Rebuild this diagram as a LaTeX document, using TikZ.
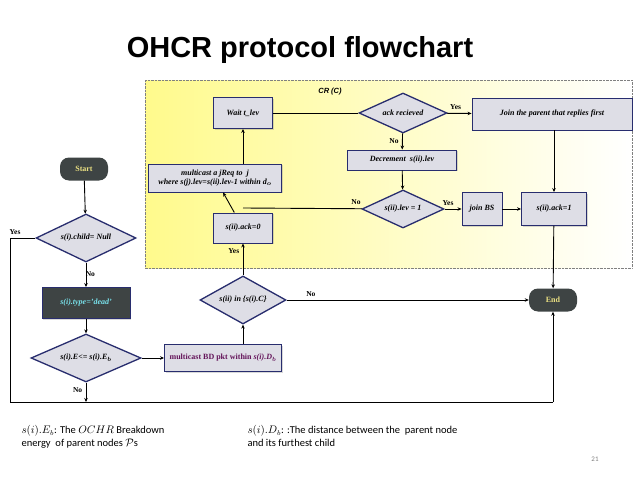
\documentclass[tikz,border=0pt]{standalone}
\usepackage{bm}
\usepackage{fontspec}
\setmainfont{Liberation Serif}
\newfontfamily\titlef{Liberation Sans}
\newfontfamily\notef{Carlito}
\usetikzlibrary{shapes.geometric,arrows.meta,shadows}
\definecolor{navy}{RGB}{40,45,110}
\definecolor{boxg}{RGB}{222,222,230}
\definecolor{dark}{RGB}{62,68,68}
\definecolor{txty}{RGB}{235,225,130}
\definecolor{cyant}{RGB}{120,225,235}
\definecolor{purp}{RGB}{100,20,90}
\definecolor{yel}{RGB}{255,250,140}
\begin{document}
\begin{tikzpicture}[x=1pt,y=-1pt,
  every node/.style={font=\fontsize{8}{9.5}\selectfont\bfseries\itshape},
  box/.style={draw=navy,line width=0.9pt,fill=boxg,align=center,inner sep=1pt,drop shadow={opacity=0.3,shadow xshift=1pt,shadow yshift=-1pt}},
  dia/.style={diamond,draw=navy,line width=1.3pt,fill=boxg,aspect=2.2,inner sep=0pt},
  term/.style={rounded corners=9pt,fill=dark,text=txty,minimum width=48pt,minimum height=23pt,font=\fontsize{8}{9}\selectfont\bfseries},
  ar/.style={-{Stealth[length=4pt,width=3.5pt]},line width=0.9pt},
  ln/.style={line width=0.9pt},
  lab/.style={font=\fontsize{7.5}{9}\selectfont\bfseries}]
\useasboundingbox (0,0) rectangle (638,479);
\fill[white] (0,0) rectangle (638,479);
\shade[left color=yel,right color=white] (145,80) rectangle (632,268);
\draw[densely dotted,gray] (145,80) rectangle (632,268);
\node[font=\titlef\fontsize{29}{32}\selectfont\bfseries] (title) at (300,50) {OHCR protocol flowchart};
\node[font=\titlef\fontsize{7.5}{9}\selectfont\bfseries\itshape] (cr) at (330,92) {CR (C)};
% CR nodes
\node[box,minimum width=59pt,minimum height=31pt] (wait) at (243,113) {Wait t\_lev};
\node[dia,minimum width=88pt,minimum height=40pt] (ack) at (403,113) {ack recieved};
\node[box,minimum width=160pt,minimum height=32pt] (join) at (552,114) {Join the parent that replies first};
\node[box,minimum width=109pt,minimum height=20pt] (dec) at (402,160) {Decrement\ \ s(ii).lev};
\node[dia,minimum width=82pt,minimum height=38pt] (lev) at (403,209) {s(ii).lev = 1};
\node[box,minimum width=40pt,minimum height=33pt] (bs) at (482,209) {join BS};
\node[box,minimum width=65pt,minimum height=33pt] (ack1) at (554,209) {s(ii).ack=1};
\node[box,minimum width=133pt,minimum height=28pt] (mc) at (215,178) {multicast a jReq to\ \ j\\where s(j).lev=s(ii).lev-1 within d$_{\bm{o}}$};
\node[box,minimum width=59pt,minimum height=30pt] (ack0) at (243,228) {s(ii).ack=0};
\node[dia,minimum width=86pt,minimum height=48pt] (in) at (243,300) {s(ii) in \{s(i).C\}};
\node[term] (end) at (553,300) {End};
% main
\node[term] (start) at (84,169) {Start};
\node[dia,minimum width=100pt,minimum height=48pt] (child) at (86,238) {s(i).child= Null};
\node[box,fill=dark,text=cyant,minimum width=88pt,minimum height=31pt] (type) at (86,303) {s(i).type='dead'};
\node[dia,minimum width=110pt,minimum height=48pt] (E) at (86,358) {s(i).E<= s(i).E$_{\bm{b}}$};
\node[box,text=purp,minimum width=117pt,minimum height=27pt,font=\fontsize{8}{9}\selectfont\bfseries] (bd) at (223,358) {multicast BD pkt within \textit{s(i).D$_{\bm{b}}$}};
\coordinate (bl) at (10,402);
\coordinate (tl) at (10,238);
\coordinate (br) at (553,402);
\coordinate (eb) at (86,402);
\coordinate (mid) at (243,208);
% connectors
\draw[ln] (wait) -- (ack);
\draw[ar] (ack) -- node[lab,above,pos=0.35]{Yes} (join);
\draw[ar] (join.south -| ack1) -- (ack1);
\draw[ar] (ack) -- node[lab,left,pos=0.45]{No} (dec);
\draw[ar] (dec) -- (lev);
\draw[ar] (lev) -- node[lab,above,pos=0.2]{Yes} (bs);
\draw[ar] (bs) -- (ack1);
\draw[ln] (lev) -- node[lab,above,pos=0.05]{No} (mid);
\draw[ar] (ack0) -- (mc);
\draw[ar] (mc.north -| wait) -- (wait);
\draw[ar] (in) -- node[lab,left,pos=0.75]{Yes} (ack0);
\draw[ar] (in) -- node[lab,above,pos=0.1]{No} (end);
\draw[ar] (ack1) -- (end);
\draw[ar] (start) -- (child);
\draw[ar] (child) -- node[lab,right=-4pt,pos=0.45]{No} (type);
\draw[ar] (type) -- (E);
\draw[ar] (E) -- (bd);
\draw[ar] (bd.north -| in) -- (in);
\draw[ar] (E) -- node[lab,left,pos=0.4]{No} (eb);
\draw[ln] (child.west) -- node[lab,above,pos=0.8]{Yes} (tl) -- (bl) -- (br);
\draw[ar] (br) -- (end);
% notes
\node[font=\notef\fontsize{10.5}{13}\selectfont,align=left,anchor=north west] (n1) at (18,422) {$s(i).E_b$: The $OCHR$ Breakdown\\energy\ \ of parent nodes $\mathcal{P}$s};
\node[font=\notef\fontsize{10.5}{13}\selectfont,align=left,anchor=north west] (n2) at (244,422) {$s(i).D_b$: :The distance between the\ \ parent node\\ and its furthest child};
\node[font=\notef\fontsize{7}{8}\selectfont,text=gray] (pg) at (595,459) {21};
\end{tikzpicture}
\end{document}
